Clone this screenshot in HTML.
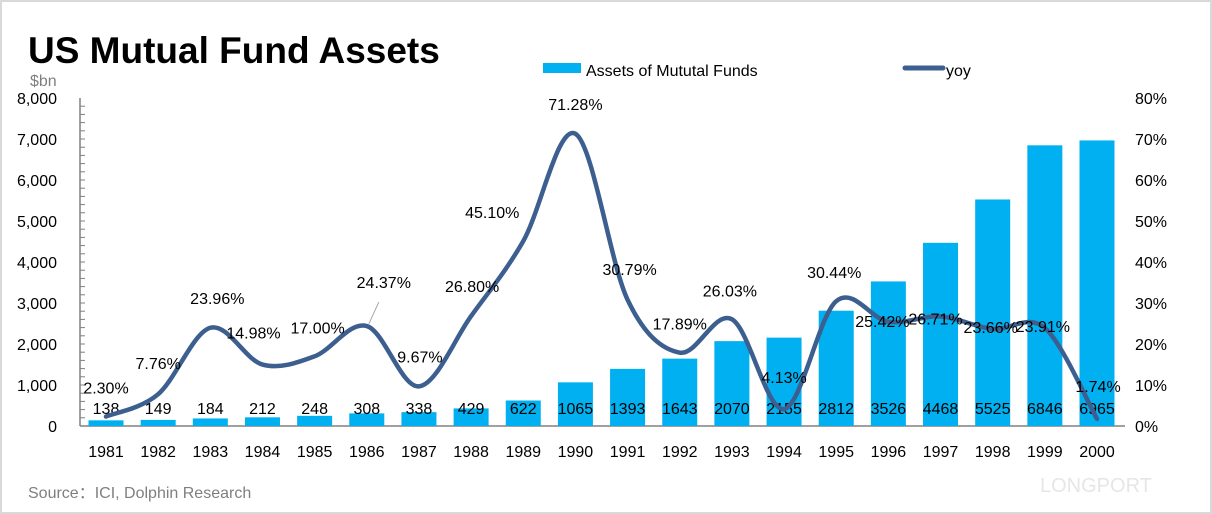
<!DOCTYPE html>
<html><head><meta charset="utf-8"><style>
body{margin:0;background:#fff;}
svg{display:block;font-family:"Liberation Sans","Noto Sans CJK SC",sans-serif;}
</style></head><body>
<svg id="c" width="1212" height="514">
<rect x="1" y="1" width="1210" height="512" fill="#fff" stroke="#d9d9d9" stroke-width="2"/>
<text x="28" y="63" font-size="37" font-weight="bold" fill="#000">US Mutual Fund Assets</text>
<text x="30" y="86" font-size="16" fill="#7f7f7f">$bn</text>
<rect x="543" y="63" width="38" height="10" fill="#00b0f0"/>
<text x="586" y="76" font-size="16" fill="#000">Assets of Mututal Funds</text>
<line x1="905" y1="68" x2="943" y2="68" stroke="#3c5f8f" stroke-width="5" stroke-linecap="round"/>
<text x="946" y="76" font-size="16" fill="#000">yoy</text>
<text x="28" y="498" font-size="16" fill="#7f7f7f">Source：ICI, Dolphin Research</text>
<text x="1040" y="492" font-size="20" fill="#e6e6e6">LONGPORT</text>
<g id="g"></g>
</svg>
<script>
const years=["1981","1982","1983","1984","1985","1986","1987","1988","1989","1990","1991","1992","1993","1994","1995","1996","1997","1998","1999","2000"];
const assets=[138,149,184,212,248,308,338,429,622,1065,1393,1643,2070,2155,2812,3526,4468,5525,6846,6965];
const yoy=[2.30,7.76,23.96,14.98,17.00,24.37,9.67,26.80,45.10,71.28,30.79,17.89,26.03,4.13,30.44,25.42,26.71,23.66,23.91,1.74];
const leftTicks=["0","1,000","2,000","3,000","4,000","5,000","6,000","7,000","8,000"];
const rightTicks=["0%","10%","20%","30%","40%","50%","60%","70%","80%"];
const ns="http://www.w3.org/2000/svg",g=document.getElementById('g');
const X0=80,X1=1125,Y0=426,Y1=98;
const step=(1097-106)/19;
const xc=i=>106+i*step;
const yL=v=>Y0-(v/8000)*(Y0-Y1);
const yR=v=>Y0-(v/80)*(Y0-Y1);
function mk(t,a,txt){const e=document.createElementNS(ns,t);for(const k in a)e.setAttribute(k,a[k]);if(txt!==undefined)e.textContent=txt;g.appendChild(e);return e;}
let e=mk('line',{x1:X0,y1:Y1,x2:X0,y2:Y0,stroke:'#808080','stroke-width':1.5});


e=mk('line',{x1:X0,y1:Y0,x2:X1,y2:Y0,stroke:'#808080','stroke-width':1.5});


leftTicks.forEach((t,i)=>{const y=yL(i*1000);
 e=mk('text',{x:57,y:y+6,'font-size':16,'text-anchor':'end'},t);
 
 
 for(let k=0;k<5&&i<8;k++){const yy=y-k*(Y0-Y1)/40;mk('line',{x1:X0,y1:yy,x2:X0+5,y2:yy,stroke:'#808080','stroke-width':1});}
});
rightTicks.forEach((t,i)=>{
 e=mk('text',{x:1135,y:yR(i*10)+6,'font-size':16},t);
 
 
});
years.forEach((t,i)=>{
 e=mk('text',{x:xc(i),y:457,'font-size':16,'text-anchor':'middle'},t);
 
 
});
assets.forEach((v,i)=>{
 e=mk('rect',{x:xc(i)-17.5,y:yL(v),width:35,height:Y0-yL(v),fill:'#00b0f0'});
 
 
});
assets.forEach((v,i)=>{
 e=mk('text',{x:xc(i),y:414,'font-size':16,'text-anchor':'middle'},String(v));
 
 
});
const P=yoy.map((v,i)=>[xc(i),yR(v)]);
let d='M'+P[0][0]+','+P[0][1];
for(let i=0;i<P.length-1;i++){const p0=P[i-1]||P[i],p1=P[i],p2=P[i+1],p3=P[i+2]||P[i+1];
 const c1=[p1[0]+(p2[0]-p0[0])/6,p1[1]+(p2[1]-p0[1])/6],c2=[p2[0]-(p3[0]-p1[0])/6,p2[1]-(p3[1]-p1[1])/6];
 d+=` C${c1[0]},${c1[1]} ${c2[0]},${c2[1]} ${p2[0]},${p2[1]}`;}
e=mk('path',{d:d,fill:'none',stroke:'#3c5f8f','stroke-width':4.5,'stroke-linecap':'round'});


const off=[[0,-23],[0,-25],[7,-24],[-9,-26],[3,-23],[17,-38],[1,-24],[1,-24],[-31,-23],[0,-24],[2,-25],[0,-23],[-2,-23],[0,-26],[-2,-23],[-6,5],[-5,8],[-2,4],[-2,4],[1,-27]];
e=mk('line',{x1:xc(5)+2,y1:yR(yoy[5])-2,x2:xc(5)+12,y2:yR(yoy[5])-24,stroke:'#a6a6a6','stroke-width':1});


yoy.forEach((v,i)=>{
 e=mk('text',{x:xc(i)+off[i][0],y:yR(v)+off[i][1],'font-size':16,'text-anchor':'middle'},v.toFixed(2)+'%');
 
 
});
</script>
</body></html>
